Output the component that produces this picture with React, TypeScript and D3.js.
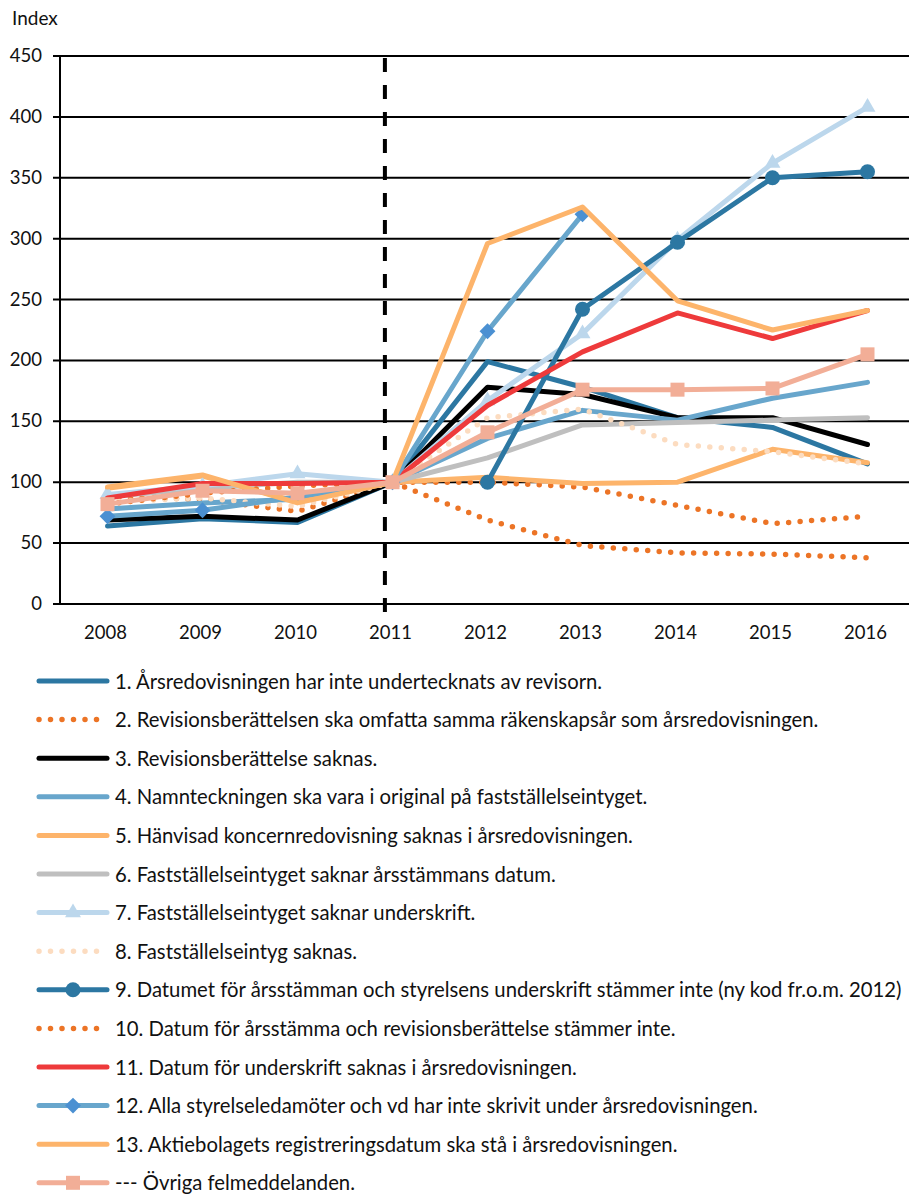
import React, { useRef, useEffect } from "react";
import * as d3 from "d3";

// years on the x axis
const years = [2008, 2009, 2010, 2011, 2012, 2013, 2014, 2015, 2016];
const yTicks = [0, 50, 100, 150, 200, 250, 300, 350, 400, 450];

// index values per error code (null = no data that year)
const s1 = [64, 70, 67, 100, 199, 178, 153, 145, 115];
const s2 = [88, 86, 76, 100, 100, 96, 81, 66, 72];
const s3 = [69, 72, 69, 100, 178, 172, 153, 153, 131];
const s4 = [78, 83, 86, 100, 136, 159, 151, 169, 182];
const s5 = [95, 105, 84, 100, 104, 99, 100, 127, 116];
const s6 = [88, 95, 100, 100, 120, 147, 149, 151, 153];
const s7 = [90, 97, 107, 100, 167, 222, 299, 362, 408];
const s8 = [84, 87, 80, 100, 153, 160, 131, 125, 115];
const s9 = [null, null, null, null, 100, 242, 297, 350, 355];
const s10 = [82, 91, 97, 100, 69, 48, 42, 41, 38];
const s11 = [87, 99, 99, 100, 163, 207, 239, 218, 241];
const s12 = [72, 77, 88, 100, 224, 320, null, null, null];
const s13 = [96, 106, 83, 100, 296, 326, 249, 225, 241];
const s14 = [82, 93, 91, 100, 141, 176, 176, 177, 205];

const labels = [
  "1. Årsredovisningen har inte undertecknats av revisorn.",
  "2. Revisionsberättelsen ska omfatta samma räkenskapsår som årsredovisningen.",
  "3. Revisionsberättelse saknas.",
  "4. Namnteckningen ska vara i original på fastställelseintyget.",
  "5. Hänvisad koncernredovisning saknas i årsredovisningen.",
  "6. Fastställelseintyget saknar årsstämmans datum.",
  "7. Fastställelseintyget saknar underskrift.",
  "8. Fastställelseintyg saknas.",
  "9. Datumet för årsstämman och styrelsens underskrift stämmer inte (ny kod fr.o.m. 2012)",
  "10. Datum för årsstämma och revisionsberättelse stämmer inte.",
  "11. Datum för underskrift saknas i årsredovisningen.",
  "12. Alla styrelseledamöter och vd har inte skrivit under årsredovisningen.",
  "13. Aktiebolagets registreringsdatum ska stå i årsredovisningen.",
  "--- Övriga felmeddelanden.",
];

const seriesValues = [s1, s2, s3, s4, s5, s6, s7, s8, s9, s10, s11, s12, s13, s14];

// styles per series
const styles = [
  { color: "#2c77a2", dotted: false, marker: null },
  { color: "#ec7426", dotted: true, marker: null },
  { color: "#000000", dotted: false, marker: null },
  { color: "#68a6cc", dotted: false, marker: null },
  { color: "#fdb46b", dotted: false, marker: null },
  { color: "#bfbfbf", dotted: false, marker: null },
  { color: "#bcd7ec", dotted: false, marker: "triangle" },
  { color: "#fcdcc0", dotted: true, marker: null },
  { color: "#2c77a2", dotted: false, marker: "circle" },
  { color: "#ec7426", dotted: true, marker: null },
  { color: "#ee3a3b", dotted: false, marker: null },
  { color: "#68a6cc", dotted: false, marker: "diamond", markerColor: "#4b90d2" },
  { color: "#fdb46b", dotted: false, marker: null },
  { color: "#f2ae97", dotted: false, marker: "square" },
];

const FONT = "Lato, 'Open Sans', sans-serif";

const App = () => {
  const svgRef = useRef(null);

  useEffect(() => {
    document.body.style.margin = "0";
    const W = 909,
      H = 1198;
    const svg = d3.select(svgRef.current);
    svg.selectAll("*").remove();
    svg.attr("width", W).attr("height", H).style("font-family", FONT);

    const left = 60,
      bw = 95;
    const x = d3
      .scaleBand()
      .domain(years.map(String))
      .range([left, left + years.length * bw]);
    const cx = (i) => x(String(years[i])) + x.bandwidth() / 2;
    const y = d3.scaleLinear().domain([0, 450]).range([604, 56]);

    // gridlines + y labels
    svg
      .append("g")
      .selectAll("line")
      .data(yTicks)
      .enter()
      .append("line")
      .attr("x1", left - 7)
      .attr("x2", W)
      .attr("y1", (d) => y(d))
      .attr("y2", (d) => y(d))
      .attr("stroke", "#000")
      .attr("stroke-width", 2);

    svg
      .append("g")
      .selectAll("text")
      .data(yTicks)
      .enter()
      .append("text")
      .attr("x", 42)
      .attr("y", (d) => y(d) + 6)
      .attr("text-anchor", "end")
      .attr("font-size", 18.5)
      .attr("fill", "#111")
      .text((d) => d);

    svg
      .append("line")
      .attr("x1", left)
      .attr("x2", left)
      .attr("y1", y(450))
      .attr("y2", y(0))
      .attr("stroke", "#000")
      .attr("stroke-width", 2);

    svg
      .append("text")
      .attr("x", 12)
      .attr("y", 25)
      .attr("font-size", 19)
      .attr("fill", "#111")
      .text("Index");

    // x labels
    svg
      .append("g")
      .selectAll("text")
      .data(years)
      .enter()
      .append("text")
      .attr("x", (d, i) => cx(i) - 2)
      .attr("y", 639)
      .attr("text-anchor", "middle")
      .attr("font-size", 18.5)
      .attr("fill", "#111")
      .text((d) => d);

    // dashed break line just before 2011
    const dashX = cx(3) - x.bandwidth() * 0.08;
    svg
      .append("line")
      .attr("x1", dashX)
      .attr("x2", dashX)
      .attr("y1", y(450) + 2)
      .attr("y2", y(0) + 8)
      .attr("stroke", "#000")
      .attr("stroke-width", 4)
      .attr("stroke-dasharray", "14 13");

    const drawMarker = (g, type, color, mx, my) => {
      if (type === "circle") {
        g.append("circle").attr("cx", mx).attr("cy", my).attr("r", 7.5).attr("fill", color);
      } else if (type === "square") {
        g.append("rect")
          .attr("x", mx - 7)
          .attr("y", my - 7)
          .attr("width", 14)
          .attr("height", 14)
          .attr("fill", color);
      } else if (type === "diamond") {
        g.append("path")
          .attr("d", d3.symbol(d3.symbolDiamond2, 160)())
          .attr("transform", `translate(${mx},${my})`)
          .attr("fill", color);
      } else if (type === "triangle") {
        g.append("path")
          .attr("d", d3.symbol(d3.symbolTriangle, 110)())
          .attr("transform", `translate(${mx},${my})`)
          .attr("fill", color);
      }
    };

    const line = d3
      .line()
      .defined((d) => d[1] !== null)
      .x((d) => cx(d[0]))
      .y((d) => y(d[1]));

    const applyStroke = (sel, st) => {
      sel
        .attr("fill", "none")
        .attr("stroke", st.color)
        .attr("stroke-width", st.dotted ? 5.5 : 5)
        .attr("stroke-linejoin", "round")
        .attr("stroke-linecap", "round");
      if (st.dotted) sel.attr("stroke-dasharray", "0 11.5");
    };

    // series
    seriesValues.forEach((vals, k) => {
      const st = styles[k];
      const g = svg.append("g");
      const p = g.append("path").attr(
        "d",
        line(vals.map((v, i) => [i, v]))
      );
      applyStroke(p, st);
      if (st.marker) {
        vals.forEach((v, i) => {
          if (v !== null) drawMarker(g, st.marker, st.markerColor || st.color, cx(i), y(v));
        });
      }
    });

    // legend
    const lg = svg.append("g");
    labels.forEach((lab, k) => {
      const st = styles[k];
      const ly = 681 + k * 38.6;
      const l = lg
        .append("line")
        .attr("x1", 39)
        .attr("x2", 107)
        .attr("y1", ly)
        .attr("y2", ly);
      applyStroke(l, st);
      if (st.marker) drawMarker(lg, st.marker, st.markerColor || st.color, 73, ly);
      lg.append("text")
        .attr("x", 115)
        .attr("y", ly + 7.5)
        .attr("font-size", 20.3)
        .attr("fill", "#111")
        .text(lab);
    });
  }, []);

  return <svg ref={svgRef}></svg>;
};

export default App;
